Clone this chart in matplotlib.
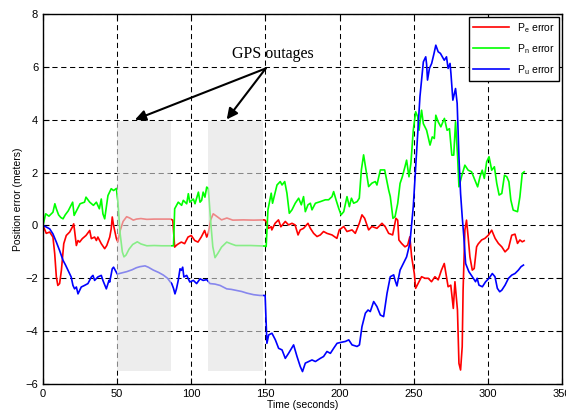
import matplotlib
matplotlib.use('Agg')
import matplotlib.pyplot as plt
import matplotlib.patches as patches

plt.rcParams['font.family'] = ['Liberation Sans', 'DejaVu Sans']
plt.rcParams['mathtext.default'] = 'regular'

# east error
t_e = [0, 2.2, 4.5, 6.7, 7.9, 9, 10, 11.2, 12.4, 14, 15.7, 18, 19.8, 20.7, 21.3, 22.5, 23.6, 24.7,
       26.5, 29, 31.5, 32.6, 34.8, 36, 37, 39.3, 41.6, 43, 45, 46, 46.7, 47.6, 49.5, 50.5,
       52, 54, 56.4, 58.5, 60.9, 63, 66, 70, 75, 80, 86,
       87.5, 88.8, 90, 91.2, 93.3, 95.5, 97.8, 100, 102.3, 104.5, 106.7, 109, 110.4, 111.5,
       113, 114.8, 117, 120.4, 124, 128, 135, 142, 149.5,
       151, 152, 153.9, 154.3, 156.5, 158.8, 160.4, 163.4, 165.6, 167.9, 170, 172, 173.5, 175.7,
       178.7, 180.3, 182.5, 184.8, 187, 189.2, 191.5, 194.9, 198.2, 199.8, 202.8, 205, 208.4,
       210.6, 213.3, 215.1, 216.9, 219.6, 221.8, 225.2, 228.6, 230.8, 233.1, 235.8, 238, 239.2,
       240, 241.8, 244.1, 245.9, 247.4, 248.6, 250.4, 251.3, 253, 255.3, 257.6, 259.8, 262,
       264.3, 266.5, 268.7, 270.6, 272.1, 273.2, 275, 276.7, 277.8, 279.5, 280.5, 281.6, 282.7,
       283.3, 284.5, 285.6, 286.7, 287.9, 289.5, 290.8, 292.4, 293.5, 295.8, 298, 300.3, 302.6,
       304.9, 307.1, 309.4, 311.6, 313.9, 316.1, 318.3, 320, 321.6, 323.2, 324.5]
p_e = [0, -0.3, -0.25, -0.44, -1.07, -1.95, -2.27, -2.2, -1.7, -0.69, -0.38, -0.25, -0.06, 0.06, -0.2,
       -0.76, -0.57, -0.63, -0.5, -0.38, -0.19, -0.5, -0.44, -0.57, -0.44, -0.69, -0.88, -0.76,
       -0.44, -0.13, 0.32, 0.0, -0.5, -0.62,
       -0.2, 0.15, 0.33, 0.28, 0.2, 0.24, 0.26, 0.23, 0.24, 0.24, 0.24,
       0.2, -0.82, -0.75, -0.7, -0.63, -0.69, -0.44, -0.38, -0.57, -0.63, -0.44, -0.19, -0.44, -0.3,
       0.2, 0.44, 0.35, 0.21, 0.28, 0.2, 0.21, 0.2, 0.21,
       0.1, -0.11, -0.05, -0.17, 0.08, 0.21, -0.05, 0.15, 0.02, 0.08, 0.02, -0.36, -0.17, -0.11,
       0.08, -0.11, -0.3, -0.42, -0.36, -0.23, -0.3, -0.36, -0.49, -0.17, -0.04, -0.23, -0.17,
       -0.3, 0.08, 0.4, 0.27, -0.17, -0.04, -0.11, 0.08, -0.05, -0.3, -0.36, 0.27, 0.2,
       -0.55, -0.68, -0.81, -0.75, -0.43, -1.19, -1.82, -2.38, -2.19, -1.94, -2.0, -2.0, -2.13,
       -1.94, -2.06, -1.69, -1.44, -1.94, -2.32, -2.26, -3.14, -2.13, -3.2, -5.22, -5.47, -4.59,
       -2.45, -0.18, 0.2, -0.43, -1.19, -1.69, -1.63, -0.81, -0.7, -0.55, -0.49, -0.37, -0.18,
       -0.49, -0.68, -0.81, -1.0, -0.87, -0.37, -0.33, -0.68, -0.55, -0.62, -0.58]

# north error
t_n = [0, 1.8, 4, 6.7, 8, 9, 10.5, 12, 13.5, 15, 17, 20, 21, 23, 25, 28, 29, 31.5, 34, 36, 38,
       39.3, 40.4, 41.6, 42.7, 43.8, 46, 47.6, 49.5,
       50.5, 52, 53.5, 54.6, 56, 58, 60.5, 63.6, 66, 70, 75, 80, 86,
       88, 88.8, 91.2, 93.5, 94.6, 96.9, 98, 99, 101.4, 102.5, 104.8, 105.9, 107, 108, 109.2, 110.4,
       111.5, 113, 114.5, 116, 118, 120.4, 123.9, 127, 130, 140, 149.5,
       150.5, 151.7, 152.6, 153.9, 154.8, 156.7, 157.8, 160, 161.2, 163, 164.5, 166.1, 167.9, 170.1,
       172.4, 174.2, 175.7, 176.9, 178.7, 180.3, 181.4, 183.7, 187, 190.4, 192.6, 194.9, 196, 197.6,
       199.4, 201, 202.8, 205, 206.6, 208, 209.5, 211.8, 213.3, 214.7, 216.2, 217.8, 219.6, 221.8,
       224.1, 225.2, 227.5, 230.4, 233.1, 234.2, 236, 237.4, 239.2, 240.8, 242.3, 244.1, 245.2,
       246.8, 248.1, 249.7, 251.3, 252.7, 253.6, 255.3, 256.5, 258.7, 261, 262.5, 263.9, 264.9,
       266.5, 268.3, 270.7, 272.5, 274.1, 275.7, 277, 278.2, 279.6, 280.5, 282.2, 284.5, 286.7,
       289, 291.3, 293.1, 294.7, 296.2, 297.6, 299.2, 300.8, 302.6, 304.4, 306, 307.6, 309.4,
       311.2, 312.8, 314.2, 315.5, 317.1, 320, 321.6, 323.2, 324.5]
p_n = [0, 0.44, 0.35, 0.5, 0.82, 0.63, 0.4, 0.3, 0.25, 0.4, 0.55, 0.88, 0.38, 0.6, 0.82, 0.88, 1.07,
       0.88, 0.76, 0.88, 0.63, 1.0, 0.44, 0.25, 0.7, 1.13, 1.39, 1.32, 1.4,
       0.9, -0.3, -1.0, -1.19, -1.12, -0.9, -0.72, -0.62, -0.7, -0.77, -0.76, -0.77, -0.77,
       -0.77, 0.63, 0.88, 0.76, 0.95, 0.82, 1.2, 0.88, 1.0, 0.82, 1.26, 0.88, 0.95, 1.26, 1.07, 1.45,
       1.4, 0.2, -0.8, -1.22, -1.05, -0.82, -0.63, -0.7, -0.76, -0.76, -0.78,
       -0.8, 0.59, 0.84, 1.22, 0.84, 1.28, 1.53, 1.66, 1.53, 1.66, 1.22, 0.46, 0.59, 0.84,
       1.03, 0.78, 1.09, 0.52, 0.78, 0.84, 0.59, 0.84, 0.9, 0.97, 0.97, 1.09, 1.28, 0.97,
       0.65, 0.4, 0.52, 1.09, 0.71, 1.03, 0.84, 0.9, 1.03, 2.1, 2.67, 2.1, 1.47, 1.6,
       1.66, 1.53, 2.1, 2.1, 1.34, 1.09, 0.27, 0.33, 0.83, 1.59, 1.84, 2.22, 2.47,
       1.84, 2.35, 3.6, 4.3, 4.11, 3.6, 4.36, 3.85, 3.6, 3.04, 3.35, 3.29, 4.17,
       3.92, 3.73, 4.05, 3.6, 3.66, 2.66, 2.66, 3.92, 2.6, 1.46, 1.84, 2.28, 2.09,
       2.03, 1.71, 1.46, 1.84, 2.09, 1.78, 2.41, 2.6, 2.09, 2.22, 1.59, 1.15, 1.21,
       1.9, 1.84, 1.65, 0.96, 0.58, 0.52, 1.08, 1.97, 2.03]

# up error
t_u = [0, 2.2, 4.5, 6.7, 9, 11.2, 13.5, 15.2, 16.9, 19, 20.2, 21.3, 22.5, 23.6, 25.8, 28, 30.3,
       32.6, 33.7, 34.8, 37, 39.3, 40.4, 42.7, 44.5, 45, 46.7, 47.6,
       50.1, 53, 56.4, 60, 63, 65.4, 68.8, 71, 74.4, 78, 81.2, 84, 85.7,
       86.8, 88, 89, 90, 91.2, 92.4, 93.3, 94.2, 95, 96.9, 99, 101.4, 103.6, 105.9, 108, 110.4,
       112.6, 116, 119.4, 123.9, 127, 130.6, 134, 137.4, 142, 146.4, 149.8,
       151, 152.2, 154.4, 156.7, 158.9, 161.2, 163.4, 165.6, 169, 171.3, 173.5, 175, 176.9, 179.1,
       181.4, 183.7, 187, 189.2, 191.5, 193.8, 196, 198.3, 200.5, 203.9, 206.2, 208.4, 211.8,
       213.4, 215.1, 217.4, 219.2, 220.7, 223, 225.2, 227.5, 229.7, 232, 234.2, 236.5, 237.4,
       238.7, 240.8, 243, 245.2, 247.4, 249.7, 252, 254.2, 256.5, 258.1, 258.7, 259.3, 260.6,
       262.1, 263.7, 264.9, 266.5, 268, 270.6, 272.1, 273.2, 274.5, 275.1, 276.4, 278.2, 279.3,
       280.5, 281.6, 282.7, 283.8, 285, 287.2, 289.5, 291.7, 292.8, 294, 296.3, 298.5, 300.8,
       303, 304.8, 306.4, 308, 309.4, 311.6, 313.9, 316.1, 318.3, 320.6, 322.4, 324]
p_u = [0, -0.06, -0.13, -0.32, -0.63, -0.95, -1.32, -1.5, -1.7, -1.95, -2.27, -2.4, -2.33, -2.59,
       -2.33, -2.27, -2.2, -1.95, -1.89, -2.08, -1.95, -1.89, -2.08, -2.4, -2.08, -2.14, -1.64, -1.58,
       -1.84, -1.8, -1.75, -1.68, -1.6, -1.56, -1.53, -1.58, -1.69, -1.78, -1.88, -2.0, -2.13,
       -2.2, -2.38, -2.59, -2.4, -2.08, -1.64, -1.7, -1.58, -1.95, -1.89, -2.14, -2.08, -2.2, -2.02,
       -2.08, -2.05,
       -2.2, -2.22, -2.27, -2.4, -2.42, -2.46, -2.5, -2.56, -2.62, -2.65, -2.65,
       -4.46, -4.14, -4.08, -4.33, -4.65, -4.71, -5.03, -4.84, -4.52, -4.96, -5.34, -5.53, -5.21,
       -5.15, -5.09, -5.15, -5.03, -4.96, -4.77, -4.84, -4.65, -4.46, -4.43, -4.39, -4.33, -4.52,
       -4.58, -4.52, -3.83, -3.32, -3.2, -3.26, -2.88, -3.07, -3.39, -3.45, -2.57, -1.94, -1.87,
       -2.07, -2.29, -1.69, -1.44, -1.19, -0.68, 0.71, 2.85, 4.87, 6.19, 6.38, 6.1, 5.5, 5.94,
       6.13, 6.51, 6.82, 6.57, 6.51, 6.25, 6.38, 5.94, 6.13, 5.75, 4.74, 5.18, 4.62,
       2.6, 1.21, 0.33, -0.43, -1.44, -1.75, -1.94, -2.13, -2.0, -2.26, -2.32, -2.13, -2.0,
       -1.82, -1.94, -2.38, -2.51, -2.45, -2.26, -2.0, -1.88, -1.82, -1.69, -1.56, -1.5]

# GPS outage windows (start, end) in seconds
outages = [(49.7, 86.3), (111.5, 148.6)]

fig = plt.figure(figsize=(5.66, 4.11), dpi=100)
ax = fig.add_axes([43 / 566, 1 - 384 / 411, 519 / 566, 370 / 411])

ax.plot(t_e, p_e, color='#ff0000', lw=1.2, label='P$_e$ error', zorder=2)
ax.plot(t_n, p_n, color='#00ff00', lw=1.2, label='P$_n$ error', zorder=2)
ax.plot(t_u, p_u, color='#0000ff', lw=1.2, label='P$_u$ error', zorder=2)

for a, b in outages:
    ax.add_patch(patches.Rectangle((a, -5.5), b - a, 9.45, facecolor='#e2e2e2',
                                   edgecolor='none', alpha=0.6, zorder=3))

ax.set_xlim(0, 350)
ax.set_ylim(-6, 8)
ax.set_xticks(range(0, 351, 50))
ax.set_yticks(range(-6, 9, 2))
ax.tick_params(direction='in', top=True, right=True, labelsize=8, length=4, width=0.8)
ax.set_axisbelow(True)
ax.grid(True, color='black', linestyle=(0, (5, 3.5)), linewidth=0.75)
for s in ax.spines.values():
    s.set_linewidth(1.0)

ax.set_xlabel('Time (seconds)', fontsize=7.5, labelpad=1)
ax.set_ylabel('Position error (meters)', fontsize=7.5, labelpad=2)

ax.annotate('', xy=(62, 4.0), xytext=(150.2, 5.94),
            arrowprops=dict(arrowstyle='-|>', color='black', lw=1.5, mutation_scale=16,
                            shrinkA=0, shrinkB=0), zorder=5)
ax.annotate('', xy=(123.9, 4.01), xytext=(150.2, 5.94),
            arrowprops=dict(arrowstyle='-|>', color='black', lw=1.5, mutation_scale=16,
                            shrinkA=0, shrinkB=0), zorder=5)
ax.text(154.8, 6.5, 'GPS outages', family='Liberation Serif', fontsize=11.5,
        ha='center', va='center', zorder=5)

leg = ax.legend(loc='upper right', fontsize=7.5, fancybox=False, framealpha=1,
                edgecolor='black', borderaxespad=0.25, handlelength=3.4, labelspacing=0.7)
leg.get_frame().set_linewidth(1.0)

fig.savefig('out.png', dpi=100)
